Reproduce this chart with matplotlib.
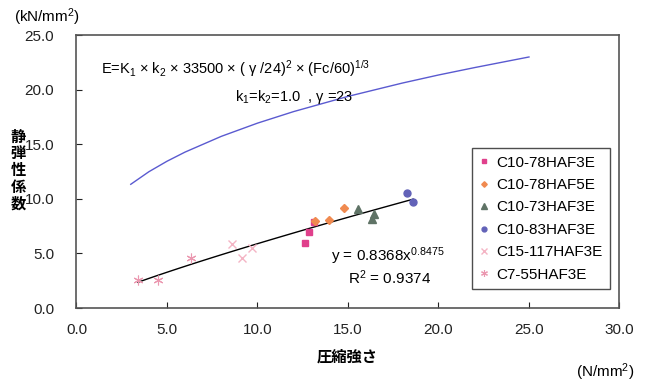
import matplotlib
matplotlib.use("Agg")
import matplotlib.pyplot as plt
import numpy as np

plt.rcParams['font.family'] = ['Liberation Sans', 'Noto Sans CJK JP', 'DejaVu Sans']
plt.rcParams['mathtext.fontset'] = 'custom'
plt.rcParams['mathtext.rm'] = 'Liberation Sans'
plt.rcParams['mathtext.it'] = 'Liberation Sans'

# --- data ---
curve_x = [3, 4, 5, 6, 8, 10, 12, 15, 18, 20, 22, 25]
curve_y = [11.33, 12.48, 13.44, 14.28, 15.72, 16.93, 17.99, 19.38, 20.60, 21.34, 22.02, 22.99]

series_names = ["C10-78HAF3E", "C10-78HAF5E", "C10-73HAF3E", "C10-83HAF3E",
                "C15-117HAF3E", "C7-55HAF3E"]
s1_x = [12.6, 12.85, 13.1]
s1_y = [5.95, 6.95, 7.9]
s2_x = [13.2, 13.97, 14.8]
s2_y = [8.0, 8.06, 9.18]
s3_x = [15.57, 16.3, 16.45]
s3_y = [9.07, 8.15, 8.6]
s4_x = [18.24, 18.6]
s4_y = [10.56, 9.68]
s5_x = [8.6, 9.16, 9.71]
s5_y = [5.83, 4.55, 5.47]
s6_x = [3.38, 4.52, 6.33]
s6_y = [2.56, 2.56, 4.6]

fit_a = 0.8368
fit_b = 0.8475
fit_range = [3.4, 18.6]

xticks = [0, 5, 10, 15, 20, 25, 30]
yticks = [0, 5, 10, 15, 20, 25]

fig = plt.figure(figsize=(6.48, 3.85), dpi=100)
ax = fig.add_axes([0.118, 0.2, 0.838, 0.709])

ax.plot(curve_x, curve_y, color='#5a5ad0', lw=1.0)

fx = np.linspace(fit_range[0], fit_range[1], 50)
ax.plot(fx, fit_a * fx ** fit_b, color='black', lw=1.0)

styles = [
    dict(marker='s', color='#e0408c', ms=5),
    dict(marker='D', color='#f08a50', ms=4),
    dict(marker='^', color='#5f7366', ms=6),
    dict(marker='o', color='#6262b8', ms=5),
    dict(marker='x', color='#f4b4c4', ms=6, mew=1.0),
    dict(marker=(6, 2, 0), color='#eb98b0', ms=7, mew=0.8),
]
data = [(s1_x, s1_y), (s2_x, s2_y), (s3_x, s3_y), (s4_x, s4_y), (s5_x, s5_y), (s6_x, s6_y)]
for (xs, ys), st, name in zip(data, styles, series_names):
    ax.plot(xs, ys, linestyle='none', label=name, **st)

ax.set_xlim(0, 30)
ax.set_ylim(0, 25)
ax.set_xticks(xticks)
ax.set_yticks(yticks)
ax.set_xticklabels([f"{v:.1f}" for v in xticks])
ax.set_yticklabels([f"{v:.1f}" for v in yticks])
ax.tick_params(direction='in', length=4, labelsize=11, colors='#222222')
ax.tick_params(axis='x', pad=11)
ax.tick_params(axis='y', pad=16)
for sp in ax.spines.values():
    sp.set_color('#555555')
    sp.set_linewidth(1.2)

leg = ax.legend(loc='upper left', bbox_to_anchor=(0.728, 0.586), fontsize=11,
                frameon=True, fancybox=False, edgecolor='#222222', borderpad=0.5,
                handlelength=0.6, handletextpad=0.5, labelspacing=0.55,
                markerscale=0.7, borderaxespad=0)
leg.get_frame().set_linewidth(1.0)

fig.text(236 / 648, 1 - 69 / 385,
         "E=K$_1$ × k$_2$ × 33500 × ( γ /24)$^2$ × (Fc/60)$^{1/3}$",
         fontsize=10.5, ha='center', va='center')
fig.text(235 / 648, 1 - 97 / 385, "k$_1$=k$_2$=1.0  , γ =23", fontsize=10.5,
         ha='left', va='center')
fig.text(388 / 648, 1 - 256 / 385, "y = 0.8368x$^{0.8475}$", fontsize=11,
         ha='center', va='center')
fig.text(390 / 648, 1 - 278 / 385, "R$^2$ = 0.9374", fontsize=11,
         ha='center', va='center')

fig.text(47 / 648, 1 - 17 / 385, "(kN/mm$^2$)", fontsize=11, ha='center', va='center')
fig.text(605 / 648, 1 - 372 / 385, "(N/mm$^2$)", fontsize=11, ha='center', va='center')
fig.text(347 / 648, 1 - 357 / 385, "圧縮強さ", fontsize=11, ha='center', va='center',
         family=['Noto Sans CJK JP'], weight='bold')
fig.text(18 / 648, 1 - 170 / 385, "静\n弾\n性\n係\n数", fontsize=11, ha='center',
         va='center', family=['Noto Sans CJK JP'], weight='bold', linespacing=1.05)

fig.savefig("out.png", dpi=100)
